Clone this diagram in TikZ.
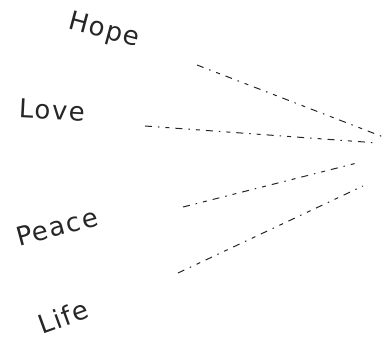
\documentclass[tikz,border=0pt]{standalone}
\usepackage{fontspec}
\setmainfont{DejaVu Sans}
\newfontfamily\handfont[LetterSpace=6]{DejaVu Sans}
\begin{document}
\begin{tikzpicture}[x=1pt,y=1pt,
  word/.style={font=\handfont\fontsize{26}{26}\selectfont, inner sep=0pt, text=black!85},
  dashline/.style={line width=1pt, black!85, dash pattern=on 7pt off 6pt on 1.5pt off 6pt on 4pt off 6pt}]
\useasboundingbox (0,0) rectangle (388,340);
\node[word, rotate=-15] (hope) at (104,309) {Hope};
\node[word, rotate=-3] (love) at (52,230) {Love};
\node[word, rotate=15] (peace) at (57,113) {Peace};
\node[word, rotate=20] (life) at (63,23) {Life};
\coordinate (h1) at (197,275); \coordinate (h2) at (386,202);
\coordinate (l1) at (145,214); \coordinate (l2) at (378,197);
\coordinate (p1) at (183,133); \coordinate (p2) at (357,177);
\coordinate (f1) at (178,67);  \coordinate (f2) at (363,154);
\draw[dashline] (h1) -- (h2);
\draw[dashline] (l1) -- (l2);
\draw[dashline] (p1) -- (p2);
\draw[dashline] (f1) -- (f2);
\end{tikzpicture}
\end{document}
